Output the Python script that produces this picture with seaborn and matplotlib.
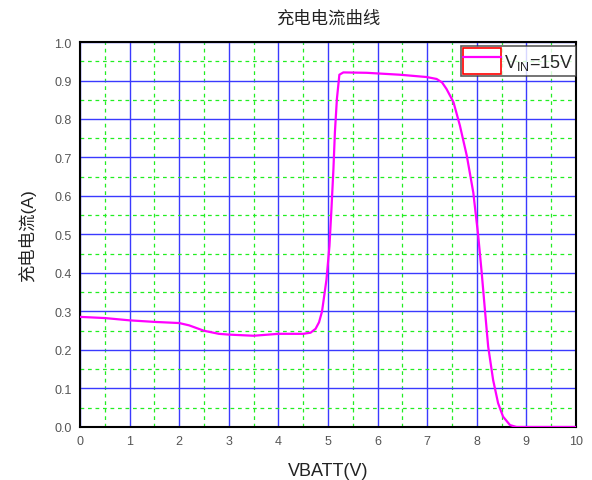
import numpy as np
import pandas as pd
import seaborn as sns
import matplotlib.pyplot as plt
from matplotlib.patches import Patch
from matplotlib.lines import Line2D
from matplotlib.legend_handler import HandlerTuple
from matplotlib.ticker import MultipleLocator

# Data
vbatt = [0.0, 0.5, 1.0, 1.5, 2.0, 2.2, 2.5, 2.8, 3.0, 3.5, 4.0, 4.5, 4.65,
         4.75, 4.82, 4.88, 4.97, 5.03, 5.07, 5.11, 5.14, 5.18, 5.23, 5.31,
         5.78, 6.45, 6.99, 7.19, 7.30, 7.39, 7.53, 7.66, 7.80, 7.93, 8.03,
         8.10, 8.17, 8.23, 8.33, 8.43, 8.53, 8.67, 8.80, 9.5, 10.0]
current = [0.286, 0.283, 0.277, 0.273, 0.270, 0.264, 0.250, 0.242, 0.240,
           0.237, 0.242, 0.242, 0.245, 0.255, 0.272, 0.300, 0.383, 0.470,
           0.566, 0.670, 0.766, 0.852, 0.915, 0.921, 0.920, 0.915, 0.909,
           0.904, 0.895, 0.878, 0.844, 0.783, 0.704, 0.609, 0.496, 0.400,
           0.296, 0.209, 0.122, 0.062, 0.027, 0.005, 0.0, 0.0, 0.0]
legend_label = 'V$_{\\mathregular{IN}}$=15V'

dtf = pd.DataFrame({'VBATT': vbatt, 'I': current})

sns.set_style('white')
plt.rcParams['font.family'] = ['Liberation Sans', 'Noto Sans CJK SC', 'DejaVu Sans']
plt.rcParams['mathtext.fontset'] = 'custom'
plt.rcParams['mathtext.rm'] = 'Liberation Sans'

fig = plt.figure(figsize=(5.92, 4.81), dpi=100)
ax = fig.add_axes([0.1351, 0.1102, 0.8378, 0.8004])

sns.lineplot(data=dtf, x='VBATT', y='I', ax=ax, color='#ff00ff', lw=1.6,
             legend=False, zorder=5)

ax.set_xlim(0, 10)
ax.set_ylim(0, 1.0)
ax.xaxis.set_major_locator(MultipleLocator(1))
ax.xaxis.set_minor_locator(MultipleLocator(0.5))
ax.yaxis.set_major_locator(MultipleLocator(0.1))
ax.yaxis.set_minor_locator(MultipleLocator(0.05))
ax.yaxis.set_major_formatter(plt.FormatStrFormatter('%.1f'))

ax.grid(True, which='major', color='#3a3aff', lw=1.0, zorder=1)
ax.grid(True, which='minor', color='#22ee22', lw=0.9, ls=(0, (3, 3)), zorder=1)
ax.set_axisbelow(True)

ax.tick_params(which='major', direction='in', length=6, width=1.4,
               labelsize=9, labelcolor='#555555', color='black',
               top=False, right=False, pad=6)
ax.tick_params(which='minor', direction='in', length=4, width=1.4,
               color='black', top=False, right=False)
for s in ax.spines.values():
    s.set_color('black')
    s.set_linewidth(1.5)

ax.set_xlabel('')
ax.set_ylabel('充电电流(A)', fontsize=12.5, color='#222222', labelpad=13)
ax.set_title('充电电流曲线', fontsize=12.5, color='#222222', pad=14)
fig.text(0.554, 0.003, 'VBATT(V)', fontsize=13, ha='center', va='bottom',
         color='#222222')

handle = (Patch(facecolor='white', edgecolor='red', lw=1.2),
          Line2D([0], [0], color='#ff00ff', lw=1.6))
leg = ax.legend([handle], [legend_label], handler_map={tuple: HandlerTuple(ndivide=1)},
                loc='upper right', bbox_to_anchor=(1.0, 0.99), fontsize=13,
                frameon=True, fancybox=False, shadow=False, borderpad=0.1,
                handlelength=2.1, handleheight=1.9, handletextpad=0.2,
                borderaxespad=0.0)
leg.get_frame().set_edgecolor('#333333')
leg.get_frame().set_linewidth(1.2)
leg.set_zorder(10)

fig.savefig('out.png', dpi=100)
